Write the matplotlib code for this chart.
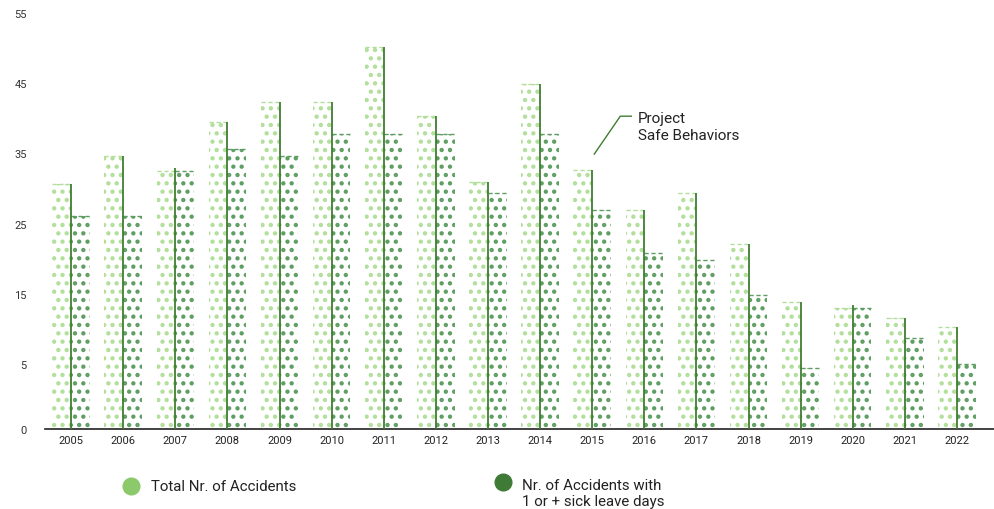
import matplotlib
matplotlib.use("Agg")
import matplotlib.pyplot as plt
from matplotlib.lines import Line2D
import numpy as np

plt.rcParams['font.family'] = ['Roboto', 'DejaVu Sans']
plt.rcParams['hatch.linewidth'] = 1.9

years = ["2005", "2006", "2007", "2008", "2009", "2010", "2011", "2012", "2013",
         "2014", "2015", "2016", "2017", "2018", "2019", "2020", "2021", "2022"]
total = [30.6, 34.6, 32.5, 39.5, 42.3, 42.3, 50.1, 40.3, 30.9,
         44.9, 32.6, 26.9, 29.3, 22.1, 13.8, 13.0, 11.5, 10.3]
sick = [26.1, 26.1, 32.5, 35.6, 34.6, 37.7, 37.7, 37.7, 29.3,
        37.7, 26.9, 20.8, 19.8, 14.8, 4.4, 13.0, 8.7, 5.0]
ytick_vals = [5, 15, 25, 35, 45, 55]

LIGHT_DOT = '#b2df9a'
DARK_DOT = '#5e9e62'
LINE = '#3f7d32'
LEG_LIGHT = '#8cc96a'
LEG_DARK = '#3f7b37'

fig = plt.figure(figsize=(9.95, 5.10), dpi=100)
ax = fig.add_axes([45/995, 80/510, 950/995, 423/510])

x = np.arange(len(years))
bottom = -4.27
w = 0.36
tot_h = np.array(total) - bottom
sick_h = np.array(sick) - bottom

ax.bar(x - w/2, tot_h, width=w, bottom=bottom, color='white', edgecolor=LIGHT_DOT,
       linewidth=0, hatch='..', zorder=2)
ax.bar(x + w/2, sick_h, width=w, bottom=bottom, color='white', edgecolor=DARK_DOT,
       linewidth=0, hatch='..', zorder=2)

# dashed top edges
ax.hlines(total, x - w, x, colors=LIGHT_DOT, linestyles=(0, (3, 2)), linewidth=1.0, zorder=3)
ax.hlines(sick, x, x + w, colors=DARK_DOT, linestyles=(0, (3, 2)), linewidth=1.0, zorder=3)
# vertical line at right edge of total bar
ax.vlines(x, bottom, np.maximum(total, np.array(sick) + 0.4), colors=LINE, linewidth=1.3, zorder=4)

ax.set_xlim(-0.5, 17.73)
ax.set_ylim(bottom, 56)
ax.set_yticks([bottom] + ytick_vals)
ax.set_yticklabels(['0'] + [str(v) for v in ytick_vals])
ax.set_xticks(x)
ax.set_xticklabels(years)
ax.tick_params(axis='y', length=0, pad=13, labelsize=8, labelcolor='#333333')
ax.tick_params(axis='x', length=0, pad=4, labelsize=8, labelcolor='#222222')
for s in ['top', 'right', 'left']:
    ax.spines[s].set_visible(False)
ax.spines['bottom'].set_color('#222222')
ax.spines['bottom'].set_linewidth(1.2)

# annotation
ax.plot([10.04, 10.54, 10.75], [34.9, 40.3, 40.3], color=LINE, linewidth=1.0, zorder=5)
ax.text(10.88, 38.8, "Project\nSafe Behaviors", fontsize=11, color='#222222',
        va='center', ha='left', linespacing=1.3)

# legend
fig.lines.append(Line2D([131/995], [1 - 487/510], marker='o', markersize=12,
                        color=LEG_LIGHT, transform=fig.transFigure))
fig.lines.append(Line2D([503/995], [1 - 483/510], marker='o', markersize=12,
                        color=LEG_DARK, transform=fig.transFigure))
fig.text(151/995, 1 - 487/510, "Total Nr. of Accidents", fontsize=10.8, color='#222222',
         va='center', ha='left')
fig.text(522/995, 1 - 494/510, "Nr. of Accidents with\n1 or + sick leave days", fontsize=10.8,
         color='#222222', va='center', ha='left', linespacing=1.25)

fig.savefig('out.png', dpi=100)
